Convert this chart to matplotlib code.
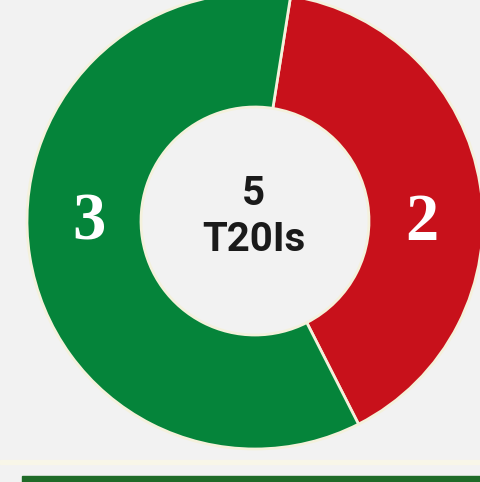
import matplotlib
matplotlib.use("Agg")
import matplotlib.pyplot as plt
from matplotlib.patches import Rectangle

# data
results = ["won", "lost"]
counts = [2, 3]            # red first, then green
colors = ["#c8111b", "#05843a"]
total_label = ["5", "T20Is"]

W, H = 480, 482
fig = plt.figure(figsize=(W / 100, H / 100), dpi=100)
fig.patch.set_facecolor("#f2f2f2")
ax = fig.add_axes([0, 0, 1, 1])

cx, cy, r = 255, 261, 228
mid = 81  # red wedge centred a bit above the horizontal (clockwise from top)
span = 360 * counts[0] / sum(counts)
wedges, _ = ax.pie(counts, colors=colors, center=(cx, cy), radius=r,
                   startangle=90 - (mid - span / 2), counterclock=False,
                   wedgeprops=dict(width=r * 0.5, edgecolor="#f4f1dc", linewidth=2),
                   frame=True)
ax.set_xlim(0, W)
ax.set_ylim(0, H)
ax.axis("off")

# segment labels
ax.text(cx + 0.73 * r, cy - 2, str(counts[0]), color="white", ha="center", va="center",
        fontsize=48, fontweight="bold", family="Liberation Serif")
ax.text(cx - 0.73 * r, cy - 2, str(counts[1]), color="white", ha="center", va="center",
        fontsize=48, fontweight="bold", family="Liberation Serif")

# centre text
ax.text(cx - 2, cy + 27, total_label[0], ha="center", va="center", fontsize=29,
        fontweight="bold", family="Roboto", color="#1a1a1a")
ax.text(cx - 1, cy - 19, total_label[1], ha="center", va="center", fontsize=29,
        fontweight="bold", family="Roboto", color="#1a1a1a")

# strip at the bottom
fig.patches.append(Rectangle((0, 18 / H), 1, 4 / H, transform=fig.transFigure,
                             color="#f8f6e8", zorder=0))
fig.patches.append(Rectangle((22 / W, 0), 1, 6 / H, transform=fig.transFigure,
                             color="#1f6b28", zorder=0))

fig.savefig("out.png", dpi=100, facecolor=fig.get_facecolor())
